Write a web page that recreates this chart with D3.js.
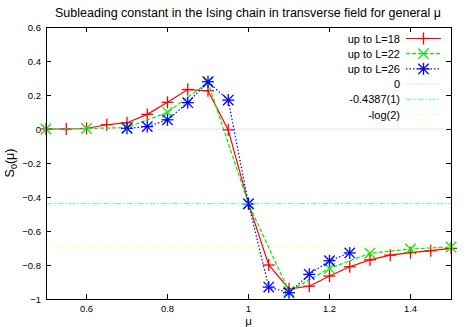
<!DOCTYPE html>
<html>
<head>
<meta charset="utf-8">
<script src="https://cdn.jsdelivr.net/npm/d3@7/dist/d3.min.js"></script>
<style>
  body { margin: 0; background: #fff; }
  text { font-family: "Liberation Sans", Arial, sans-serif; fill: #000; }
</style>
</head>
<body>
<svg id="chart" width="467" height="327"></svg>
<script>
// data
const mu18 = [0.5, 0.55, 0.6, 0.65, 0.7, 0.75, 0.8, 0.85, 0.9, 0.95, 1.0, 1.05, 1.1, 1.15, 1.2, 1.25, 1.3, 1.35, 1.4, 1.45, 1.5];
const s18  = [0, 0.0, 0.003, 0.025, 0.037, 0.086, 0.157, 0.232, 0.225, -0.005, -0.4387, -0.80, -0.94, -0.925, -0.865, -0.81, -0.77, -0.742, -0.727, -0.716, -0.702];

const mu22 = [0.5, 0.6, 0.7, 0.8, 0.9, 1.0, 1.1, 1.2, 1.3, 1.4, 1.5];
const s22  = [0, 0.003, 0.008, 0.098, 0.275, -0.44, -0.955, -0.82, -0.731, -0.706, -0.694];

const mu26 = [0.7, 0.75, 0.8, 0.85, 0.9, 0.95, 1.0, 1.05, 1.1, 1.15, 1.2, 1.25];
const s26  = [0.004, 0.014, 0.054, 0.155, 0.278, 0.17, -0.44, -0.93, -0.963, -0.855, -0.775, -0.729];

const refNames  = ["0", "-0.4387(1)", "-log(2)"];
const refValues = [0, -0.4387, -Math.log(2)];

const xTicks = [0.6, 0.8, 1, 1.2, 1.4];
const yTicks = [0.6, 0.4, 0.2, 0, -0.2, -0.4, -0.6, -0.8, -1];

var svg = d3.select("#chart"),
    margin = {top: 27, right: 16, bottom: 28, left: 46},
    width = +svg.attr("width"),
    height = +svg.attr("height");

var x = d3.scaleLinear()
    .domain([0.5, 1.5])
    .range([margin.left, width - margin.right]);

var y = d3.scaleLinear()
    .domain([-1, 0.6])
    .range([height - margin.bottom, margin.top]);

var fmt = d => d === 0 ? "0" : d3.format("")(d);

// title
svg.append("text")
    .attr("x", 248)
    .attr("y", 17)
    .attr("text-anchor", "middle")
    .attr("font-size", 12.5)
    .text("Subleading constant in the Ising chain in transverse field for general \u03bc");

// ticks, mirrored, pointing inwards
var tickLen = 5;
var ticks = svg.append("g").attr("stroke", "#000").attr("stroke-width", 1).style("shape-rendering", "crispEdges");
xTicks.forEach(function(t) {
    ticks.append("line").attr("x1", x(t)).attr("x2", x(t)).attr("y1", y.range()[0]).attr("y2", y.range()[0] - tickLen);
    ticks.append("line").attr("x1", x(t)).attr("x2", x(t)).attr("y1", y.range()[1]).attr("y2", y.range()[1] + tickLen);
});
yTicks.forEach(function(t) {
    ticks.append("line").attr("x1", x.range()[0]).attr("x2", x.range()[0] + tickLen).attr("y1", y(t)).attr("y2", y(t));
    ticks.append("line").attr("x1", x.range()[1]).attr("x2", x.range()[1] - tickLen).attr("y1", y(t)).attr("y2", y(t));
});

svg.append("g").selectAll("text")
    .data(xTicks).enter().append("text")
    .attr("x", d => x(d))
    .attr("y", height - margin.bottom + 12.5)
    .attr("text-anchor", "middle")
    .attr("font-size", 9.5)
    .attr("fill", "#222")
    .text(fmt);

svg.append("g").selectAll("text")
    .data(yTicks).enter().append("text")
    .attr("x", margin.left - 5)
    .attr("y", d => y(d) + 3.5)
    .attr("text-anchor", "end")
    .attr("font-size", 9.5)
    .attr("fill", "#222")
    .text(fmt);

// axis labels
svg.append("text")
    .attr("x", x(1))
    .attr("y", height - 2)
    .attr("text-anchor", "middle")
    .attr("font-size", 11.5)
    .text("\u03bc");

var yl = svg.append("text")
    .attr("transform", "translate(14," + y(-0.2) + ") rotate(-90)")
    .attr("text-anchor", "middle")
    .attr("font-size", 12.5);
yl.append("tspan").text("S");
yl.append("tspan").attr("font-size", 9).attr("dy", 3).text("0");
yl.append("tspan").attr("dy", -3).text("(\u03bc)");

// series
var series = [
    {name: "up to L=18", mu: mu18, s: s18, color: "#ff0000", dash: null, marker: "plus"},
    {name: "up to L=22", mu: mu22, s: s22, color: "#00ee00", dash: "4,2", marker: "cross"},
    {name: "up to L=26", mu: mu26, s: s26, color: "#0000ff", dash: "1.5,2", marker: "star"}
];

var line = d3.line().x(d => x(d[0])).y(d => y(d[1]));

function marker(g, type, cx, cy, color) {
    var r = 6, rx = 5.2;
    var m = g.append("g").attr("stroke", color).attr("stroke-width", 1.3).attr("fill", "none");
    if (type === "plus" || type === "star") {
        m.append("line").attr("x1", cx - r).attr("x2", cx + r).attr("y1", cy).attr("y2", cy);
        m.append("line").attr("x1", cx).attr("x2", cx).attr("y1", cy - r).attr("y2", cy + r);
    }
    if (type === "cross" || type === "star") {
        m.append("line").attr("x1", cx - rx).attr("x2", cx + rx).attr("y1", cy - rx).attr("y2", cy + rx);
        m.append("line").attr("x1", cx - rx).attr("x2", cx + rx).attr("y1", cy + rx).attr("y2", cy - rx);
    }
}

var plot = svg.append("g");
series.forEach(function(sr) {
    var pts = sr.mu.map((m, i) => [m, sr.s[i]]);
    plot.append("path")
        .attr("d", line(pts))
        .attr("fill", "none")
        .attr("stroke", sr.color)
        .attr("stroke-width", 1.2)
        .attr("stroke-dasharray", sr.dash);
    pts.forEach(p => marker(plot, sr.marker, x(p[0]), y(p[1]), sr.color));
});

// reference lines (thin and faint)
var refs = [
    {color: "#ff80ff", dash: "1.2,2", w: 0.7},
    {color: "#55f4ff", dash: "6,2,1.5,2", w: 1},
    {color: "#ffee44", dash: "1.2,2", w: 0.7}
];
refValues.forEach(function(v, i) {
    plot.append("line")
        .attr("x1", x.range()[0]).attr("x2", x.range()[1])
        .attr("y1", y(v)).attr("y2", y(v))
        .attr("stroke", refs[i].color)
        .attr("stroke-width", refs[i].w)
        .attr("stroke-dasharray", refs[i].dash);
});

// legend
var legend = svg.append("g");
var rowY = i => 38.5 + i * 15.2;
var lx1 = 406, lx2 = 441, tx = 400;
series.forEach(function(sr, i) {
    legend.append("text").attr("x", tx).attr("y", rowY(i) + 4).attr("text-anchor", "end").attr("font-size", 11).text(sr.name);
    legend.append("line").attr("x1", lx1).attr("x2", lx2).attr("y1", rowY(i)).attr("y2", rowY(i))
        .attr("stroke", sr.color).attr("stroke-width", 1.2).attr("stroke-dasharray", sr.dash);
    marker(legend, sr.marker, (lx1 + lx2) / 2, rowY(i), sr.color);
});
refNames.forEach(function(n, j) {
    var i = j + 3;
    legend.append("text").attr("x", tx).attr("y", rowY(i) + 4).attr("text-anchor", "end").attr("font-size", 11).text(n);
    legend.append("line").attr("x1", lx1).attr("x2", lx2).attr("y1", rowY(i)).attr("y2", rowY(i))
        .attr("stroke", refs[j].color).attr("stroke-width", refs[j].w).attr("stroke-dasharray", refs[j].dash);
});

// frame
svg.append("rect")
    .attr("x", x.range()[0]).attr("y", y.range()[1])
    .attr("width", x.range()[1] - x.range()[0])
    .attr("height", y.range()[0] - y.range()[1])
    .attr("fill", "none").attr("stroke", "#000").attr("stroke-width", 1)
    .style("shape-rendering", "crispEdges");
</script>
</body>
</html>
